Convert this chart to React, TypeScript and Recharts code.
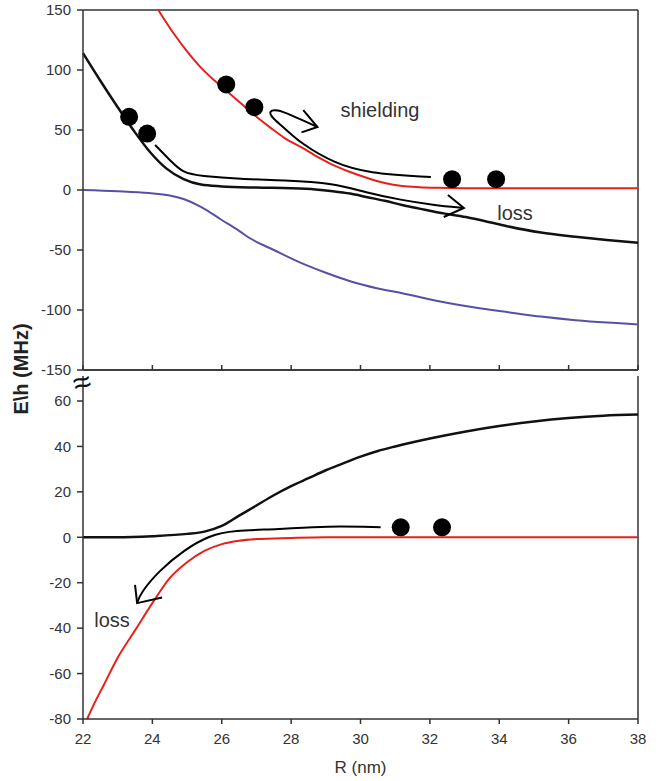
import { LineChart, Line, XAxis, YAxis, ReferenceLine } from "recharts";

const FONT = '"Liberation Sans", Arial, sans-serif';
const INK = "#333";

// top panel (y: -150..150)
const xTicks = [22, 24, 26, 28, 30, 32, 34, 36, 38];
const topTicks = [-150, -100, -50, 0, 50, 100, 150];
const bottomTicks = [-80, -60, -40, -20, 0, 20, 40, 60];

const pts = (arr: number[][]) => arr.map(([r, v]) => ({ r, v }));

const redTop = pts([
  [24.17, 150], [24.6, 131], [25, 115.5], [25.4, 102], [25.8, 91], [26.2, 81],
  [26.6, 71], [27, 61], [27.4, 52], [27.8, 43.5], [28.3, 35.5], [28.8, 27],
  [29.2, 21], [29.7, 15], [30.2, 10], [30.7, 5.8], [31.2, 3.3], [31.7, 2.3],
  [32.2, 1.8], [33, 1.5], [35, 1.5], [38, 1.5],
]);

const blackTop = pts([
  [22, 114], [22.5, 91], [23, 69], [23.45, 50], [23.95, 31], [24.4, 18],
  [24.9, 9], [25.4, 4.5], [26, 3], [27, 2], [28, 1.5], [28.7, 0.5], [29.2, -1],
  [29.7, -3], [30.2, -6], [30.7, -9], [31.2, -12.5], [31.7, -15.5], [32.1, -18],
  [32.6, -20.5], [33.1, -23], [33.6, -26], [34.2, -30], [35.2, -35.5],
  [36.2, -39], [37.1, -41.7], [38, -44],
]);

const blueTop = pts([
  [22, 0], [23, -1], [23.9, -2.5], [24.5, -4.5], [24.9, -7.5], [25.4, -14],
  [26, -25], [26.5, -34], [26.8, -40], [27.5, -50], [28.3, -61], [29, -69],
  [29.7, -76], [30.5, -82], [31.2, -86], [32.3, -93], [33.3, -98], [34.3, -102],
  [35.2, -105.5], [36.2, -108.5], [37.1, -110.5], [38, -112],
]);

const dotsTop = pts([
  [23.33, 61], [23.85, 47], [26.13, 88], [26.94, 69], [32.64, 9], [33.91, 9],
]);

// hand-drawn arrows (top)
const shieldPath = pts([
  [32.03, 10.8], [30.2, 14], [29.23, 22.5], [28.27, 39], [27.78, 52.5],
  [27.45, 60], [27.35, 66], [27.6, 67], [27.95, 63], [28.76, 52.5],
]);
const shieldHead = pts([[28.35, 66.5], [28.76, 52.5], [28.3, 48]]);

const lossTopPath = pts([
  [24.08, 37.5], [24.5, 25], [24.89, 14], [25.38, 11.7], [26.54, 9],
  [27.78, 8.3], [29.23, 5.8], [30.2, -2.5], [31.16, -8.3], [32.1, -12.5],
  [32.98, -15],
]);
const lossTopHead = pts([[32.52, -4.2], [32.98, -15], [32.4, -22.5]]);

// bottom panel (y: -80..60)
const blackBottom = pts([
  [22, 0], [23, 0], [24, 0.5], [25, 1.5], [25.5, 2.5], [26, 5], [26.5, 9.5],
  [27, 14], [27.5, 18.5], [28, 22.5], [28.5, 26], [29, 29.5], [29.5, 32.5],
  [30, 35.5], [30.5, 38], [31, 40], [32, 43.5], [33, 46.5], [34, 49],
  [35, 51], [36, 52.5], [37, 53.5], [38, 54],
]);

const redBottom = pts([
  [22.12, -80], [22.3, -74], [22.6, -65], [23, -53], [23.5, -41], [24, -29],
  [24.5, -18], [25, -11], [25.5, -6], [26, -3], [26.5, -1.5], [27, -0.8],
  [28, -0.3], [29, 0], [38, 0],
]);

const dotsBottom = pts([[31.16, 4.4], [32.35, 4.4]]);

const lossBottomPath = pts([
  [30.58, 4.4], [29.05, 5], [27.6, 3.5], [26.34, 3], [25.67, 1],
  [24.9, -5.7], [24.2, -14.6], [23.65, -24.7], [23.56, -29],
]);
const lossBottomHead = pts([[23.5, -21], [23.56, -29], [24.28, -26.5]]);

const tickStyle = { fontSize: 15, fill: INK, fontFamily: FONT };
const axisLine = { stroke: INK, strokeWidth: 1.5 };

const curve = (data: any, color: string, w = 2, type: any = "monotone") => (
  <Line
    data={data}
    dataKey="v"
    type={type}
    stroke={color}
    strokeWidth={w}
    dot={false}
    isAnimationActive={false}
  />
);

const dots = (data: any) => (
  <Line
    data={data}
    dataKey="v"
    stroke="none"
    dot={{ r: 9, fill: "#000", stroke: "none" }}
    isAnimationActive={false}
  />
);

const note = (text: string, left: number, top: number, size = 20) => (
  <div
    style={{
      position: "absolute",
      left,
      top,
      fontFamily: FONT,
      fontSize: size,
      color: INK,
      transform: "translate(-50%, -50%)",
      whiteSpace: "nowrap",
      zIndex: 3,
    }}
  >
    {text}
  </div>
);

export default function App() {
  return (
    <div
      style={{
        position: "absolute",
        left: 0,
        top: 0,
        width: 660,
        height: 781,
        background: "#fff",
        fontFamily: FONT,
      }}
    >
      <div style={{ position: "absolute", left: 0, top: 372 }}>
        <LineChart
          width={660}
          height={409}
          margin={{ top: 4, right: 22, bottom: 0, left: 0 }}
        >
          <XAxis
            dataKey="r"
            type="number"
            domain={[22, 38]}
            ticks={xTicks}
            height={62}
            tickSize={5}
            tickMargin={9}
            tick={tickStyle}
            axisLine={axisLine}
            tickLine={axisLine}
            label={{
              value: "R (nm)",
              position: "insideBottom",
              offset: 8,
              style: { fontSize: 17, fill: INK, fontFamily: FONT },
            }}
          />
          <YAxis
            type="number"
            domain={[-80, 71]}
            ticks={bottomTicks}
            width={83}
            tickSize={6}
            tickMargin={6}
            tick={tickStyle}
            axisLine={axisLine}
            tickLine={axisLine}
          />
          <ReferenceLine x={38} stroke={INK} strokeWidth={1.5} />
          {curve(redBottom, "#e8201c", 2)}
          {curve(blackBottom, "#111", 2.5)}
          {dots(dotsBottom)}
          {curve(lossBottomPath, "#000", 2, "basis")}
          {curve(lossBottomHead, "#000", 2, "linear")}
        </LineChart>
      </div>

      <div style={{ position: "absolute", left: 0, top: 0, zIndex: 2 }}>
        <LineChart
          width={660}
          height={380}
          margin={{ top: 10, right: 22, bottom: 0, left: 0 }}
          style={{ overflow: "visible" }}
        >
          <XAxis
            dataKey="r"
            type="number"
            domain={[22, 38]}
            ticks={xTicks}
            height={10}
            tick={() => <g />}
            tickSize={-5}
            axisLine={axisLine}
            tickLine={axisLine}
          />
          <YAxis
            type="number"
            domain={[-150, 150]}
            ticks={topTicks}
            width={83}
            tickSize={6}
            tickMargin={6}
            tick={tickStyle}
            axisLine={axisLine}
            tickLine={axisLine}
          />
          <ReferenceLine y={150} stroke={INK} strokeWidth={1.5} />
          <ReferenceLine y={-150} stroke={INK} strokeWidth={1.5} />
          <ReferenceLine x={38} stroke={INK} strokeWidth={1.5} />
          {curve(blueTop, "#5650a6", 2)}
          {curve(redTop, "#e8201c", 2)}
          {curve(blackTop, "#111", 2.5)}
          {dots(dotsTop)}
          {curve(shieldPath, "#000", 2, "basis")}
          {curve(shieldHead, "#000", 2, "linear")}
          {curve(lossTopPath, "#000", 2, "basis")}
          {curve(lossTopHead, "#000", 2, "linear")}
        </LineChart>
      </div>

      {note("shielding", 380, 110)}
      {note("loss", 515, 213)}
      {note("loss", 112, 620)}
      <div
        style={{
          position: "absolute",
          left: 82,
          top: 382,
          transform: "translate(-50%, -50%) rotate(-15deg)",
          fontFamily: FONT,
          fontSize: 32,
          color: "#111",
          lineHeight: 1,
          zIndex: 3,
        }}
      >
        {"\u2248"}
      </div>

      <div
        style={{
          position: "absolute",
          left: 21,
          top: 369,
          transform: "translate(-50%, -50%) rotate(-90deg)",
          fontFamily: FONT,
          fontSize: 20,
          fontWeight: "bold",
          color: "#222",
          whiteSpace: "nowrap",
          zIndex: 3,
        }}
      >
        E\h (MHz)
      </div>
    </div>
  );
}
